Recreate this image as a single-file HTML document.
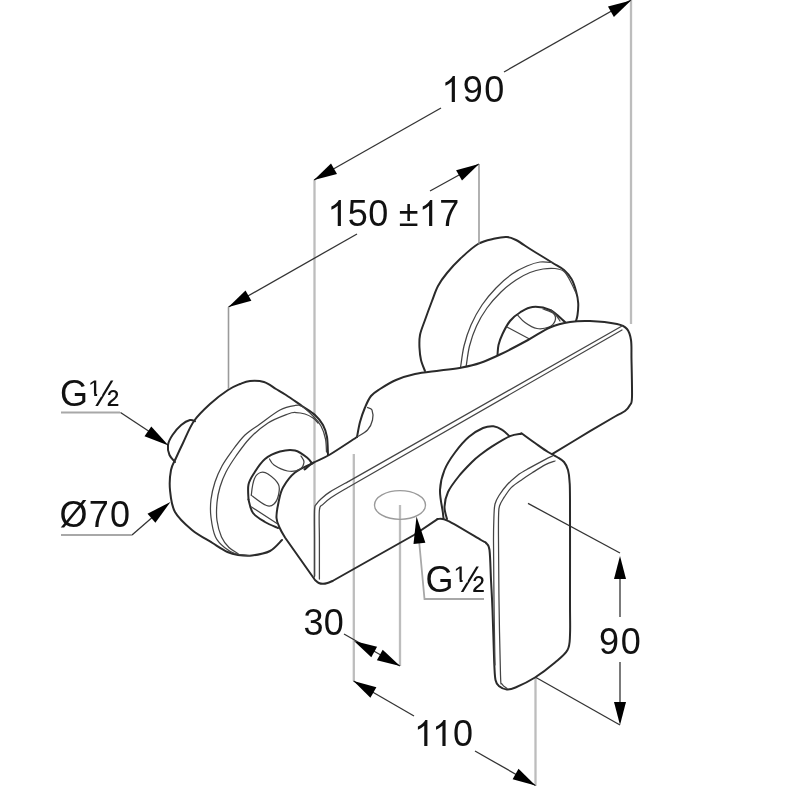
<!DOCTYPE html>
<html><head><meta charset="utf-8"><style>
html,body{margin:0;padding:0;background:#fff;width:800px;height:800px;overflow:hidden}
svg{position:absolute;left:0;top:0;filter:blur(0.6px)}
.k{fill:none;stroke:#2a2a2a;stroke-width:2.0;stroke-linecap:round;stroke-linejoin:round}
.kt{fill:none;stroke:#444;stroke-width:1.25;stroke-linecap:round;stroke-linejoin:round}
.kl{fill:none;stroke:#a8a8a8;stroke-width:1.8;stroke-linecap:butt}
.d{fill:none;stroke:#333;stroke-width:1.3}
.g{fill:none;stroke:#bdbdbd;stroke-width:2.3}
.ar{fill:#000;stroke:none}
text .h{fill-opacity:0}
text{font-family:"Liberation Sans",sans-serif;font-size:36px;fill:#111}
</style></head><body>
<svg width="800" height="800" viewBox="0 0 800 800">
<path class="g" d="M631.0 0.0 L631.0 324.0"/>
<path class="g" d="M314.5 180.0 L314.5 576.0"/>
<path class="g" d="M353.8 454.0 L353.8 681.0"/>
<path class="g" d="M400.0 505.0 L400.0 666.0"/>
<path class="g" d="M535.5 677.0 L535.5 786.0"/>
<path class="d" d="M314.0 180.0 L441.0 108.0"/>
<path class="d" d="M504.0 72.0 L631.0 0.0"/>
<path class="d" d="M228.5 307.0 L357.0 234.0"/>
<path class="d" d="M430.0 191.0 L479.0 164.0"/>
<path class="d" d="M120.5 412.5 L150.0 432.0"/>
<path class="d" d="M132.0 535.0 L155.0 515.0"/>
<path class="d" d="M344.0 634.0 L400.0 666.0"/>
<path class="d" d="M353.5 681.0 L414.0 716.0"/>
<path class="d" d="M475.0 751.0 L535.5 785.5"/>
<path class="d" d="M620.0 575.0 L620.0 617.0"/>
<path class="d" d="M620.0 662.0 L620.0 705.0"/>
<path class="d" d="M528.0 503.4 L620.0 553.0"/>
<path class="d" d="M536.0 677.5 L620.0 725.0"/>
<path class="k" d="M425.0 371.0 C424.3 369.2 421.9 363.8 421.0 360.0 C420.1 356.2 419.7 352.2 419.5 348.0 C419.3 343.8 419.1 339.7 420.0 335.0 C420.9 330.3 423.0 325.7 425.0 320.0 C427.0 314.3 429.8 306.7 432.0 301.0 C434.2 295.3 435.5 290.7 438.0 286.0 C440.5 281.3 443.3 277.5 447.0 273.0 C450.7 268.5 454.8 263.8 460.0 259.0 C465.2 254.2 472.2 247.4 478.0 244.0 C483.8 240.6 490.2 239.7 495.0 238.5 C499.8 237.3 503.5 236.8 507.0 237.0 C510.5 237.2 511.8 237.8 516.0 240.0 C520.2 242.2 526.5 246.8 532.5 250.5 C538.5 254.2 546.8 259.2 552.0 262.5 C557.2 265.8 560.8 267.2 564.0 270.0 C567.2 272.8 569.5 275.5 571.5 279.0 C573.5 282.5 574.9 287.0 576.0 291.0 C577.1 295.0 578.0 299.0 578.2 303.0 C578.5 307.0 577.9 312.0 577.5 315.0 C577.1 318.0 576.2 320.0 576.0 321.0"/>
<path class="kt" d="M460.6 367.0 C461.2 363.5 462.3 353.0 464.0 346.0 C465.7 339.0 468.0 331.8 471.0 325.0 C474.0 318.2 477.8 311.2 482.0 305.0 C486.2 298.8 491.0 293.2 496.0 288.0 C501.0 282.8 506.8 277.7 512.0 274.0 C517.2 270.3 522.3 268.0 527.0 266.0 C531.7 264.0 535.8 262.6 540.0 262.0 C544.2 261.4 550.0 262.4 552.0 262.5"/>
<path class="kt" d="M466.2 366.0 C466.8 362.7 467.8 352.7 469.5 346.0 C471.2 339.3 473.6 332.3 476.5 326.0 C479.4 319.7 482.9 313.7 487.0 308.0 C491.1 302.3 496.2 296.7 501.0 292.0 C505.8 287.3 511.2 283.2 516.0 280.0 C520.8 276.8 525.5 274.3 530.0 272.5 C534.5 270.7 538.8 269.7 543.0 269.0 C547.2 268.3 551.5 268.1 555.0 268.5 C558.5 268.9 561.5 269.5 564.0 271.5 C566.5 273.5 568.0 276.9 570.0 280.5 C572.0 284.1 575.0 290.9 576.0 293.0"/>
<path class="k" d="M497.5 355.0 C497.7 353.3 497.7 348.5 498.5 345.0 C499.3 341.5 500.6 338.0 502.5 334.0 C504.4 330.0 507.1 324.6 510.0 321.0 C512.9 317.4 516.2 314.8 520.0 312.5 C523.8 310.2 527.5 307.4 532.5 307.0 C537.5 306.6 544.6 307.5 550.0 310.0 C555.4 312.5 562.5 320.0 565.0 322.0"/>
<path class="kt" d="M517.5 315.0 C518.8 316.2 521.8 320.2 525.0 322.5 C528.2 324.8 533.0 327.8 537.0 328.5 C541.0 329.2 546.0 328.2 549.0 327.0 C552.0 325.8 554.2 323.2 555.0 321.0 C555.8 318.8 555.5 315.5 553.5 313.5 C551.5 311.5 544.8 309.8 543.0 309.0"/>
<path class="kt" d="M507.0 327.0 L529.5 339.0"/>
<path class="kt" d="M551.0 310.0 C551.8 310.8 554.5 313.2 556.0 315.0 C557.5 316.8 559.3 320.0 560.0 321.0"/>
<path class="k" d="M304.5 469.5 C306.0 468.4 309.2 465.2 313.5 462.7 C317.8 460.2 322.8 458.8 330.0 454.5 C337.2 450.2 352.5 439.9 357.0 437.0"/>
<path class="k" d="M357.0 437.0 C357.5 434.5 358.7 426.9 360.0 422.0 C361.3 417.1 363.2 411.8 365.0 407.5 C366.8 403.2 368.5 399.1 371.0 396.0 C373.5 392.9 375.8 391.7 380.0 389.0 C384.2 386.3 390.2 382.5 396.0 380.0 C401.8 377.5 407.7 375.6 415.0 374.0 C422.3 372.4 432.2 371.6 440.0 370.5 C447.8 369.4 455.3 368.8 462.0 367.5 C468.7 366.2 473.7 365.2 480.0 363.0 C486.3 360.8 492.0 358.3 500.0 354.5 C508.0 350.7 519.7 344.5 528.0 340.0 C536.3 335.5 543.0 330.5 550.0 327.5 C557.0 324.5 563.3 323.1 570.0 322.0 C576.7 320.9 582.2 320.7 590.0 321.0 C597.8 321.3 610.8 322.7 617.0 324.0 C623.2 325.3 624.7 326.3 627.0 329.0 C629.3 331.7 630.2 334.8 631.0 340.0 C631.8 345.2 631.3 350.5 631.5 360.0 C631.7 369.5 632.2 389.5 632.0 397.0 C631.8 404.5 631.2 402.7 630.0 405.0 C628.8 407.3 627.5 409.1 625.0 411.0 C622.5 412.9 620.8 413.1 615.0 416.5 C609.2 419.9 600.4 425.0 590.0 431.2 C579.6 437.5 558.8 450.0 552.5 453.8"/>
<path class="kt" d="M357.0 437.0 C358.8 435.8 364.9 432.8 367.5 430.0 C370.1 427.2 371.8 423.3 372.5 420.0 C373.2 416.7 372.8 412.1 372.0 410.0 C371.2 407.9 368.2 407.9 367.5 407.5"/>
<path class="k" d="M313.5 462.7 C310.4 464.3 300.1 468.4 295.0 472.5 C289.9 476.6 285.8 482.5 283.0 487.5 C280.2 492.5 279.6 497.4 278.5 502.5 C277.4 507.6 276.2 513.7 276.5 518.0 C276.8 522.3 278.6 525.2 280.0 528.5 C281.4 531.8 284.2 536.0 285.0 537.5 L315 580C315.6 580.5 317.4 582.4 318.8 583.0 C320.1 583.6 321.5 583.8 323.0 583.8 C324.5 583.8 325.9 583.5 327.5 583.0 C329.1 582.5 331.7 581.3 332.5 581.0"/>
<path class="kt" d="M314.5 577.0 C314.5 570.8 314.5 551.2 314.5 540.0 C314.5 528.8 314.2 515.9 314.5 510.0 C314.8 504.1 315.1 506.3 316.2 504.4 C317.4 502.5 319.0 500.8 321.2 498.8 C323.5 496.7 325.2 494.9 330.0 491.9 C334.8 488.9 346.7 482.5 350.0 480.6 L622 326"/>
<path class="kt" d="M319.4 579.0 C319.4 572.5 319.4 551.5 319.4 540.0 C319.4 528.5 318.8 515.9 319.4 510.0 C320.0 504.1 321.0 506.5 323.0 504.4 C325.0 502.3 326.8 500.5 331.2 497.5 C335.8 494.5 346.9 488.1 350.0 486.2 L622 330"/>
<path class="k" d="M332.5 581 L414 535 L437.5 519.2"/>
<path class="k" d="M443.5 518.0 C443.4 517.0 443.3 516.7 442.8 512.0 C442.2 507.3 439.7 497.0 440.0 490.0 C440.3 483.0 442.0 476.2 444.5 470.0 C447.0 463.8 450.9 458.0 455.0 452.5 C459.1 447.0 464.3 440.8 469.0 436.8 C473.7 432.7 478.9 429.8 483.0 428.0 C487.1 426.2 490.3 426.0 493.5 426.2 C496.7 426.5 499.6 428.1 502.2 429.8 C504.9 431.4 508.1 435.0 509.2 436.0"/>
<path class="k" d="M447.0 519.0 C446.6 517.0 444.3 511.2 444.5 506.8 C444.7 502.2 445.6 497.1 448.0 492.0 C450.4 486.9 455.0 481.0 459.0 476.0 C463.0 471.0 468.5 465.5 472.0 462.0 C475.5 458.5 476.6 457.6 480.0 455.0 C483.4 452.4 487.5 449.4 492.5 446.2 C497.5 443.1 505.2 438.3 510.0 436.2 C514.8 434.2 519.4 434.2 521.2 433.8"/>
<path class="k" d="M437.5 519.0 C439.2 519.3 440.8 517.2 448.0 520.8 C455.2 524.2 474.7 536.3 481.0 540.0 C487.3 543.7 484.6 541.3 486.0 543.0 C487.4 544.7 488.7 543.8 489.5 550.0 C490.3 556.2 490.5 570.0 491.0 580.0 C491.5 590.0 492.0 596.2 492.5 610.0 C493.0 623.8 493.8 650.8 494.2 662.5 C494.8 674.2 494.7 676.0 495.5 680.0 C496.3 684.0 497.4 684.7 499.2 686.2 C501.1 687.8 504.0 689.2 506.8 689.4 C509.5 689.6 510.8 689.5 515.5 687.5 C520.2 685.5 528.4 681.7 535.0 677.5 C541.6 673.3 549.6 667.1 555.0 662.5 C560.4 657.9 565.0 654.6 567.5 650.0 C570.0 645.4 569.6 643.3 570.0 635.0 C570.4 626.7 570.0 622.5 570.0 600.0 C570.0 577.5 570.1 519.8 570.0 500.0 C569.9 480.2 569.8 486.0 569.5 481.0 C569.2 476.0 568.9 473.2 568.0 470.0 C567.1 466.8 565.8 464.2 564.0 462.0 C562.2 459.8 559.7 458.7 557.0 457.0 C554.3 455.3 551.7 454.3 548.0 452.0 C544.3 449.7 539.4 446.1 535.0 443.0 C530.6 439.9 523.8 434.9 521.5 433.2"/>
<path class="kt" d="M495.0 665.0 C494.8 654.2 494.2 620.8 494.0 600.0 C493.8 579.2 493.5 554.2 493.5 540.0 C493.5 525.8 493.8 521.0 494.0 515.0 C494.2 509.0 494.2 507.2 495.0 504.0 C495.8 500.8 497.0 498.7 499.0 495.5 C501.0 492.3 503.8 488.4 506.9 485.0 C510.0 481.6 513.8 478.2 517.4 475.4 C521.0 472.6 524.1 471.0 528.8 468.4 C533.4 465.8 541.0 461.7 545.0 459.6 C549.0 457.5 551.2 456.6 552.5 456.0"/>
<path class="kt" d="M507.0 688.5 C506.2 687.8 503.1 686.2 502.0 684.0 C500.9 681.8 501.0 689.0 500.5 675.0 C500.0 661.0 499.3 622.5 499.0 600.0 C498.7 577.5 498.6 554.2 498.5 540.0 C498.4 525.8 498.4 520.7 498.6 515.0 C498.8 509.3 498.6 509.0 499.5 506.0 C500.4 503.0 502.3 500.3 504.2 497.2 C506.2 494.2 508.3 490.5 511.2 487.6 C514.2 484.7 518.2 482.2 521.8 479.8 C525.2 477.3 528.4 475.2 532.2 472.8 C536.1 470.3 541.2 466.9 545.0 464.9 C548.8 462.9 553.3 461.6 555.0 461.0"/>
<path class="k" d="M282.0 540.0 C280.0 541.8 275.0 548.4 270.0 551.0 C265.0 553.6 257.3 554.8 252.0 555.5 C246.7 556.2 242.1 555.6 238.0 555.0 C233.9 554.4 231.8 554.0 227.5 552.0 C223.2 550.0 218.4 546.7 212.5 543.0 C206.6 539.3 198.2 535.2 192.0 530.0 C185.8 524.8 178.7 518.7 175.0 512.0 C171.3 505.3 170.7 497.0 170.0 490.0 C169.3 483.0 170.0 475.3 171.0 470.0 C172.0 464.7 174.0 462.5 176.0 458.0 C178.0 453.5 180.0 449.2 183.0 443.0 C186.0 436.8 189.5 427.5 194.0 421.0 C198.5 414.5 204.3 409.2 210.0 404.0 C215.7 398.8 223.0 393.3 228.0 390.0 C233.0 386.7 236.3 385.5 240.0 384.0 C243.7 382.5 246.0 381.3 250.0 381.0 C254.0 380.7 259.7 380.7 264.0 382.0 C268.3 383.3 272.3 386.8 276.0 389.0 C279.7 391.2 281.7 392.2 286.0 395.0 C290.3 397.8 297.2 402.7 302.0 406.0 C306.8 409.3 311.5 411.8 315.0 415.0 C318.5 418.2 321.0 421.3 323.0 425.0 C325.0 428.7 326.2 432.0 327.0 437.0 C327.8 442.0 327.8 452.0 328.0 455.0"/>
<path class="kt" d="M250.0 555.5 C247.5 555.2 239.2 554.8 235.0 553.5 C230.8 552.2 227.8 550.2 224.5 547.5 C221.2 544.8 217.8 542.0 215.5 537.0 C213.2 532.0 211.8 523.8 211.0 517.5 C210.2 511.2 210.3 505.4 211.0 499.5 C211.7 493.6 213.2 487.6 215.0 482.0 C216.8 476.4 219.2 471.2 222.0 466.0 C224.8 460.8 228.2 456.2 232.0 451.0 C235.8 445.8 240.3 439.5 245.0 435.0 C249.7 430.5 254.2 428.2 260.0 424.0 C265.8 419.8 274.2 413.1 280.0 410.0 C285.8 406.9 291.3 406.1 295.0 405.5 C298.7 404.9 299.0 404.8 302.0 406.5 C305.0 408.2 309.8 412.8 313.0 416.0 C316.2 419.2 318.9 422.2 321.0 426.0 C323.1 429.8 324.6 434.7 325.5 439.0 C326.4 443.3 326.3 449.8 326.5 452.0"/>
<path class="kt" d="M238.0 553.5 C236.5 552.5 231.8 550.2 229.0 547.5 C226.2 544.8 223.5 541.5 221.5 537.0 C219.5 532.5 217.8 526.2 217.0 520.5 C216.2 514.8 216.5 508.1 217.0 502.5 C217.5 496.9 218.5 492.1 220.0 487.0 C221.5 481.9 223.3 477.2 226.0 472.0 C228.7 466.8 232.0 461.7 236.0 456.0 C240.0 450.3 244.7 443.5 250.0 438.0 C255.3 432.5 261.7 427.0 268.0 423.0 C274.3 419.0 283.3 415.8 288.0 414.0 C292.7 412.2 293.2 412.5 296.0 412.5 C298.8 412.5 302.2 413.1 305.0 414.0 C307.8 414.9 310.8 416.5 313.0 418.0 C315.2 419.5 317.2 422.2 318.0 423.0"/>
<path class="k" d="M175.0 462.0 C174.1 460.8 170.7 457.8 169.5 455.0 C168.3 452.2 167.5 448.3 168.0 445.0 C168.5 441.7 170.3 438.3 172.5 435.0 C174.7 431.7 178.3 427.5 181.2 425.0 C184.2 422.5 187.7 420.6 190.0 420.0 C192.3 419.4 194.2 421.0 195.0 421.2"/>
<path class="k" d="M248.5 499.5 C248.5 497.0 247.5 489.0 248.5 484.5 C249.5 480.0 251.8 476.8 254.5 472.5 C257.2 468.2 260.8 462.5 265.0 459.0 C269.2 455.5 275.0 452.9 280.0 451.5 C285.0 450.1 290.4 449.4 295.0 450.5 C299.6 451.6 304.7 455.8 307.5 458.0 C310.3 460.2 311.2 462.6 312.0 463.5"/>
<path class="k" d="M248.5 499.5 C249.2 501.8 250.2 509.2 253.0 513.0 C255.8 516.8 260.8 519.5 265.0 522.0 C269.2 524.5 275.8 527.0 278.0 528.0"/>
<path class="kt" d="M269.5 459.0 C270.2 460.0 271.0 463.0 274.0 465.0 C277.0 467.0 283.2 470.2 287.5 471.0 C291.8 471.8 296.8 471.0 299.5 469.5 C302.2 468.0 303.8 464.2 304.0 462.0 C304.2 459.8 301.5 457.0 301.0 456.0"/>
<path class="kt" d="M251.5 493.5 C251.8 490.5 253.0 482.0 254.5 478.5 C256.0 475.0 258.2 473.2 260.5 472.5 C262.8 471.8 265.0 472.0 268.0 474.0 C271.0 476.0 276.8 481.0 278.5 484.5 C280.2 488.0 279.2 491.8 278.5 495.0 C277.8 498.2 276.0 502.2 274.0 504.0 C272.0 505.8 270.0 506.8 266.5 505.5 C263.0 504.2 255.5 498.5 253.0 496.5 C250.5 494.5 251.2 496.5 251.5 493.5Z"/>
<path class="kt" d="M251.5 507.0 L277.0 523.5"/>
<path fill="none" stroke="#9a9a9a" stroke-width="1.6" d="M228.5 307.0 L228.5 389.0"/>
<path fill="none" stroke="#888" stroke-width="1.3" d="M479.0 164.0 L479.0 244.0"/>
<path class="kl" d="M61.0 412.5 L120.0 412.5"/>
<path class="kl" d="M61.0 535.0 L132.0 535.0"/>
<path class="kl" d="M419.0 540.0 L424.5 599.0 L484.0 599.0"/>
<ellipse cx="400" cy="505" rx="25.5" ry="14.4" fill="none" stroke="#9a9a9a" stroke-width="1.4"/>
<path class="ar" d="M314.0 180.0 L331.0 163.4 L337.0 173.9 Z"/>
<path class="ar" d="M631.0 0.5 L613.9 17.1 L608.0 6.6 Z"/>
<path class="ar" d="M228.5 307.0 L245.5 290.4 L251.4 300.8 Z"/>
<path class="ar" d="M479.0 164.0 L462.0 180.6 L456.1 170.2 Z"/>
<path class="ar" d="M168.5 445.5 L144.5 436.3 L151.3 426.4 Z"/>
<path class="ar" d="M170.4 502.0 L155.4 522.8 L147.5 513.7 Z"/>
<path class="ar" d="M416.5 516.5 L425.4 542.7 L413.5 544.0 Z"/>
<path class="ar" d="M354.0 641.0 L377.1 646.7 L371.3 657.3 Z"/>
<path class="ar" d="M400.0 666.0 L376.9 660.3 L382.7 649.7 Z"/>
<path class="ar" d="M353.5 681.0 L376.4 687.3 L370.4 697.7 Z"/>
<path class="ar" d="M535.5 785.5 L512.6 779.3 L518.5 768.8 Z"/>
<path class="ar" d="M620.0 556.0 L626.0 579.0 L614.0 579.0 Z"/>
<path class="ar" d="M620.0 725.0 L614.0 702.0 L626.0 702.0 Z"/>
<text x="441.5" y="102.0" style="letter-spacing:1.30px"><tspan class="h">1</tspan>90</text>
<text x="327.5" y="226.0" style="letter-spacing:0.30px"><tspan class="h">1</tspan>50 ±<tspan class="h">1</tspan>7</text>
<text x="60.0" y="406.0" style="letter-spacing:1.30px">G½</text>
<text x="59.5" y="527.0" style="letter-spacing:1.30px">Ø70</text>
<text x="425.5" y="592.0" style="letter-spacing:1.30px">G½</text>
<text x="303.5" y="635.0" style="letter-spacing:0.30px">30</text>
<text x="414.0" y="746.0" style="letter-spacing:0.80px"><tspan class="h">1</tspan><tspan class="h">1</tspan>0</text>
<text x="599.0" y="654.0" style="letter-spacing:1.80px">90</text>
<path fill="#111" transform="translate(441.50 102.00) scale(0.01758 -0.01758)" d="M763 0L583 0L583 1147Q518 1085 412 1023Q306 961 221 930L221 1104Q372 1175 485 1276Q598 1377 645 1472L763 1472Z"/>
<path fill="#111" transform="translate(327.50 226.00) scale(0.01758 -0.01758)" d="M763 0L583 0L583 1147Q518 1085 412 1023Q306 961 221 930L221 1104Q372 1175 485 1276Q598 1377 645 1472L763 1472Z"/>
<path fill="#111" transform="translate(418.84 226.00) scale(0.01758 -0.01758)" d="M763 0L583 0L583 1147Q518 1085 412 1023Q306 961 221 930L221 1104Q372 1175 485 1276Q598 1377 645 1472L763 1472Z"/>
<rect fill="#fff" x="89.60" y="393.60" width="4.6" height="2.8"/>
<rect fill="#fff" x="97.10" y="393.60" width="5" height="2.8"/>
<rect fill="#fff" x="455.10" y="579.60" width="4.6" height="2.8"/>
<rect fill="#fff" x="462.60" y="579.60" width="5" height="2.8"/>
<path fill="#111" transform="translate(414.00 746.00) scale(0.01758 -0.01758)" d="M763 0L583 0L583 1147Q518 1085 412 1023Q306 961 221 930L221 1104Q372 1175 485 1276Q598 1377 645 1472L763 1472Z"/>
<path fill="#111" transform="translate(432.16 746.00) scale(0.01758 -0.01758)" d="M763 0L583 0L583 1147Q518 1085 412 1023Q306 961 221 930L221 1104Q372 1175 485 1276Q598 1377 645 1472L763 1472Z"/>
</svg></body></html>
